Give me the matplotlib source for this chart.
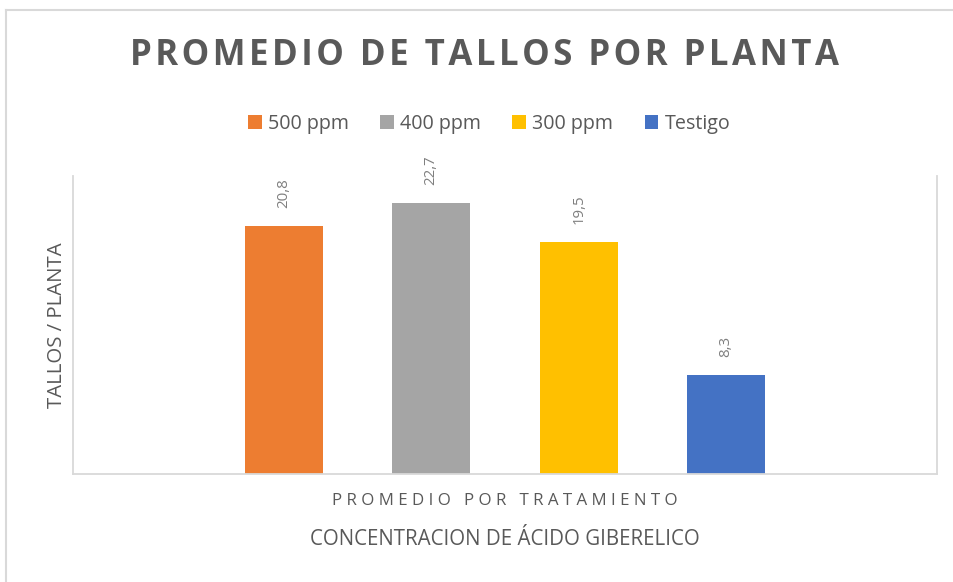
"""Promedio de tallos por planta - bar chart, one category with four series."""

import matplotlib
matplotlib.use("Agg")
import matplotlib.pyplot as plt
from matplotlib.lines import Line2D

SERIES = ["500 ppm", "400 ppm", "300 ppm", "Testigo"]
VALUES = [20.8, 22.7, 19.5, 8.3]
LABELS = ["20,8", "22,7", "19,5", "8,3"]
COLORS = ["#ED7D31", "#A5A5A5", "#FFC000", "#4472C4"]
CATEGORY = "PROMEDIO POR TRATAMIENTO"

TEXT = "#595959"
GRID = "#D9D9D9"
FONT = ["Open Sans", "DejaVu Sans"]


def spaced(s, gap):
    # fake letter spacing by putting a narrow space between characters
    return gap.join(s)


plt.rcParams["font.family"] = FONT

fig = plt.figure(figsize=(9.54, 5.82), dpi=100)
ax = fig.add_axes([73 / 954, 1 - 474 / 582, 864 / 954, 298 / 582])

# outer chart frame (left and top edges only visible)
fig.add_artist(Line2D([6.5 / 954, 6.5 / 954], [0, 1 - 9.5 / 582],
                      transform=fig.transFigure, color=GRID, lw=1.5))
fig.add_artist(Line2D([6.5 / 954, 1], [1 - 9.5 / 582, 1 - 9.5 / 582],
                      transform=fig.transFigure, color=GRID, lw=1.5))

step = 147.5 / 864
width = 78 / 864
for i, (name, v, lab, c) in enumerate(zip(SERIES, VALUES, LABELS, COLORS)):
    x = (i - 1.5) * step
    ax.bar(x, v, width=width, color=c, label=name, edgecolor="none", zorder=2)
    ax.annotate(lab, (x, v), xytext=(0, 13), textcoords="offset points",
                rotation=90, ha="center", va="bottom", fontsize=10.8,
                color="#7F7F7F")

ax.set_xlim(-0.5, 0.5)
ax.set_ylim(0, 25)
ax.set_yticks([])
ax.set_xticks([0])
ax.set_xticklabels([spaced(CATEGORY, " ")], fontsize=12.2, color=TEXT)
ax.tick_params(axis="x", length=0, pad=14)

for side in ["left", "right", "bottom"]:
    ax.spines[side].set_color(GRID)
    ax.spines[side].set_linewidth(1.3)
ax.spines["top"].set_visible(False)

ax.set_xlabel("CONCENTRACION DE ÁCIDO GIBERELICO", fontsize=14.8,
              color=TEXT, labelpad=14)
ax.set_ylabel("TALLOS / PLANTA", fontsize=14.7, color=TEXT, labelpad=4)

fig.text(485 / 954, 1 - 56 / 582, spaced("PROMEDIO DE TALLOS POR PLANTA", "\u200a"),
         ha="center", va="center", fontsize=25, fontweight="bold", color=TEXT)

fig.legend(loc="center", bbox_to_anchor=(489 / 954, 1 - 124 / 582), ncol=4,
           frameon=False, fontsize=14.2, handlelength=0.7, handleheight=0.7,
           handletextpad=0.3, columnspacing=1.6, labelcolor=TEXT)

fig.savefig("out.png", dpi=100, facecolor="white")
